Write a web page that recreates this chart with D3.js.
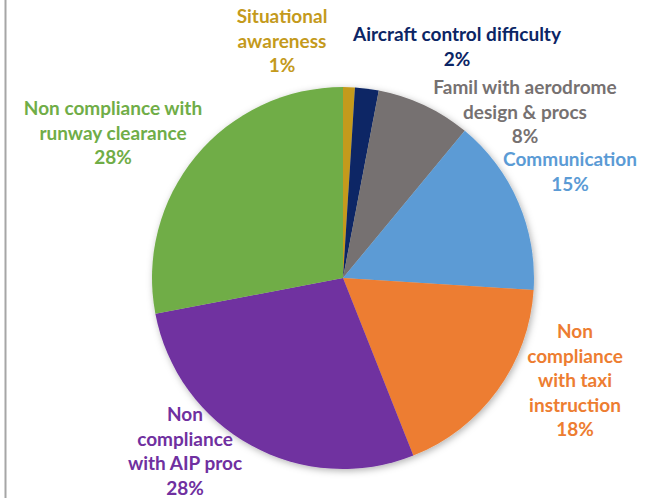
<!DOCTYPE html>
<html>
<head>
<meta charset="utf-8">
<script src="https://cdn.jsdelivr.net/npm/d3@7/dist/d3.min.js"></script>
<style>
  html, body { margin: 0; padding: 0; background: #ffffff; }
  svg { display: block; }
  .lbl { font-family: Lato, "Open Sans", sans-serif; font-weight: 700; }
</style>
</head>
<body>
<svg id="chart" width="658" height="498"></svg>
<script>
// Incident causes, share of occurrences (%)
const categories = [
  "Situational awareness",
  "Aircraft control difficulty",
  "Famil with aerodrome design & procs",
  "Communication",
  "Non compliance with taxi instruction",
  "Non compliance with AIP proc",
  "Non compliance with runway clearance"
];
const values = [1, 2, 8, 15, 18, 28, 28];
// Label text broken into the lines shown next to each slice
const labelLines = [
  ["Situational", "awareness"],
  ["Aircraft control difficulty"],
  ["Famil with aerodrome", "design & procs"],
  ["Communication"],
  ["Non", "compliance", "with taxi", "instruction"],
  ["Non", "compliance", "with AIP proc"],
  ["Non compliance with", "runway clearance"]
];
const colors = ["#C49A1C", "#0B2565", "#767171", "#5B9BD5", "#ED7D31", "#7030A0", "#70AD47"];

// Layout
const W = 658, H = 498;
const cx = 343, cy = 278, R = 191;
const lineGap = 24.5;
// label block anchors: [centre x, first baseline y]
const labelPos = [
  [282, 23],
  [457, 41],
  [525, 94],
  [570, 166],
  [575, 338],
  [185, 421],
  [113, 115]
];

const svg = d3.select("#chart");

svg.append("rect").attr("width", W).attr("height", H).attr("fill", "#ffffff");

// left frame edge
svg.append("line")
  .attr("x1", 5.5).attr("x2", 5.5).attr("y1", 0).attr("y2", H)
  .attr("stroke", "#A6A6A6").attr("stroke-width", 2);

const defs = svg.append("defs");
const shadow = defs.append("filter").attr("id", "pieShadow")
  .attr("x", "-10%").attr("y", "-10%").attr("width", "120%").attr("height", "120%");
shadow.append("feDropShadow")
  .attr("dx", 1.5).attr("dy", 2).attr("stdDeviation", 3.5)
  .attr("flood-color", "#000").attr("flood-opacity", 0.3);

const data = categories.map((c, i) => ({ name: c, value: values[i], color: colors[i], lines: labelLines[i], pos: labelPos[i] }));

const pie = d3.pie().value(d => d.value).sort(null).startAngle(0).endAngle(2 * Math.PI);
const arc = d3.arc().innerRadius(0).outerRadius(R);

const g = svg.append("g").attr("transform", `translate(${cx},${cy})`);
const slices = g.append("g").attr("filter", "url(#pieShadow)");
slices.selectAll("path")
  .data(pie(data))
  .join("path")
  .attr("d", arc)
  .attr("fill", d => d.data.color);

const fmt = d3.format(".0%");
const labels = svg.append("g").attr("class", "lbl");
data.forEach(d => {
  const t = labels.append("text")
    .attr("text-anchor", "middle")
    .attr("font-size", 19)
    .attr("fill", d.color);
  const lines = d.lines.concat([fmt(d.value / 100)]);
  lines.forEach((ln, j) => {
    t.append("tspan")
      .attr("x", d.pos[0])
      .attr("y", d.pos[1] + j * lineGap)
      .text(ln);
  });
});
</script>
</body>
</html>
